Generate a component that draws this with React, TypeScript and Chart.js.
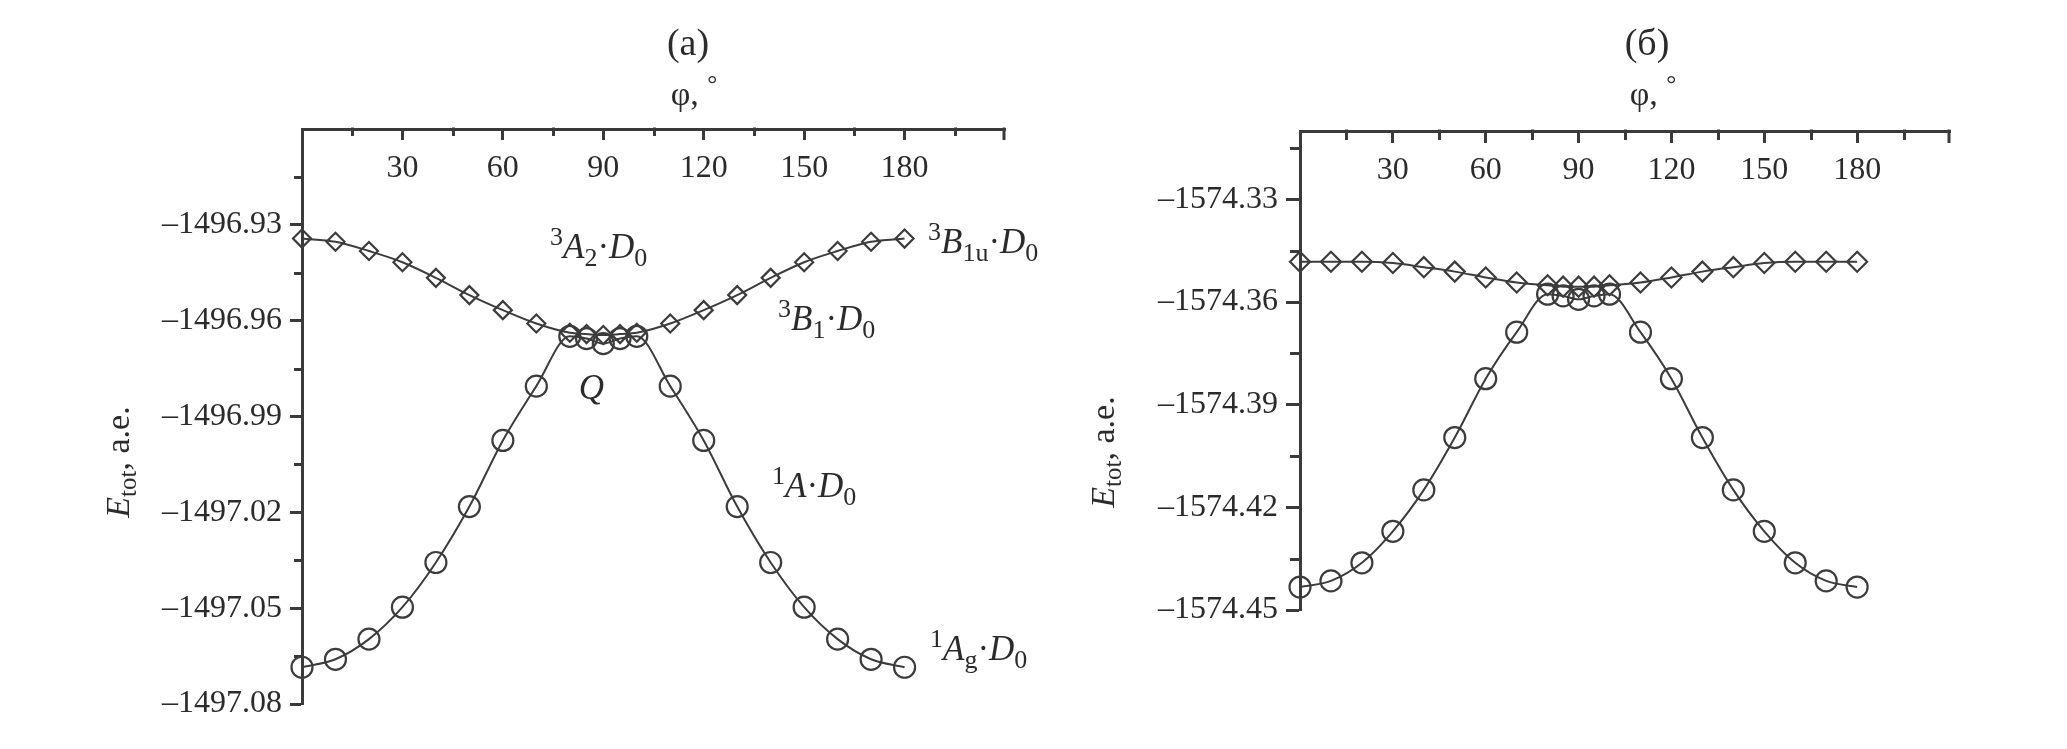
import React, { useEffect, useRef } from 'react';
import { Chart, registerables } from 'chart.js';

Chart.register(...registerables);

// ---------------- data ----------------
const phi = [0, 10, 20, 30, 40, 50, 60, 70, 80, 85, 90, 95, 100, 110, 120, 130, 140, 150, 160, 170, 180];

// panel (а): triplet (diamonds) and singlet (circles)
const tripletA = [
  -1496.9343, -1496.9353, -1496.9382, -1496.9417, -1496.9466, -1496.952, -1496.9567, -1496.9609,
  -1496.9638, -1496.9642, -1496.9645, -1496.9642, -1496.9638,
  -1496.9609, -1496.9567, -1496.952, -1496.9466, -1496.9417, -1496.9382, -1496.9353, -1496.9343,
];
const singletA = [
  -1497.0685, -1497.066, -1497.0597, -1497.0497, -1497.0357, -1497.0182, -1496.9975, -1496.9805,
  -1496.9649, -1496.9656, -1496.9672, -1496.9656, -1496.9649,
  -1496.9805, -1496.9975, -1497.0182, -1497.0357, -1497.0497, -1497.0597, -1497.066, -1497.0685,
];

// panel (б)
const tripletB = [
  -1574.3482, -1574.3482, -1574.3482, -1574.3486, -1574.3498, -1574.3511, -1574.3528, -1574.3543,
  -1574.3551, -1574.3555, -1574.3555, -1574.3555, -1574.3551,
  -1574.3543, -1574.3528, -1574.3511, -1574.3498, -1574.3486, -1574.3482, -1574.3482, -1574.3482,
];
const singletB = [
  -1574.4433, -1574.4415, -1574.4362, -1574.427, -1574.4149, -1574.3996, -1574.3824, -1574.3688,
  -1574.3577, -1574.3582, -1574.3592, -1574.3582, -1574.3577,
  -1574.3688, -1574.3824, -1574.3996, -1574.4149, -1574.427, -1574.4362, -1574.4415, -1574.4433,
];

// ticks
const xTickValues = [30, 60, 90, 120, 150, 180];
const xTickLabels = ['30', '60', '90', '120', '150', '180'];
const xMinorTicks = [15, 45, 75, 105, 135, 165, 195];
const xEndTicks = [210];

const yTicksA = [-1497.08, -1497.05, -1497.02, -1496.99, -1496.96, -1496.93];
const yLabelsA = ['\u20131497.08', '\u20131497.05', '\u20131497.02', '\u20131496.99', '\u20131496.96', '\u20131496.93'];
const yMinorA = [-1497.065, -1497.035, -1497.005, -1496.975, -1496.945, -1496.915];

const yTicksB = [-1574.45, -1574.42, -1574.39, -1574.36, -1574.33];
const yLabelsB = ['\u20131574.45', '\u20131574.42', '\u20131574.39', '\u20131574.36', '\u20131574.33'];
const yMinorB = [-1574.435, -1574.405, -1574.375, -1574.345, -1574.315];

// ---------------- styling ----------------
const FONT = '"Liberation Serif", "Times New Roman", serif';
const INK = '#2b2b2b';
const AXIS = '#3a3a3a';
const LINE = '#3c3c3c';

type Seg = { t: string; it?: boolean; sup?: boolean; sub?: boolean };
type Note = { x: number; y: number; segs: Seg[] };

const notesA: Note[] = [
  { x: 74.1, y: -1496.9405, segs: [{ t: '3', sup: true }, { t: 'A', it: true }, { t: '2', sub: true }, { t: '\u00b7' }, { t: 'D', it: true }, { t: '0', sub: true }] },
  { x: 187, y: -1496.9388, segs: [{ t: '3', sup: true }, { t: 'B', it: true }, { t: '1u', sub: true }, { t: '\u00b7' }, { t: 'D', it: true }, { t: '0', sub: true }] },
  { x: 142.2, y: -1496.9629, segs: [{ t: '3', sup: true }, { t: 'B', it: true }, { t: '1', sub: true }, { t: '\u00b7' }, { t: 'D', it: true }, { t: '0', sub: true }] },
  { x: 82.7, y: -1496.9845, segs: [{ t: 'Q', it: true }] },
  { x: 140.4, y: -1497.0152, segs: [{ t: '1', sup: true }, { t: 'A', it: true }, { t: '\u00b7' }, { t: 'D', it: true }, { t: '0', sub: true }] },
  { x: 187.6, y: -1497.0662, segs: [{ t: '1', sup: true }, { t: 'A', it: true }, { t: 'g', sub: true }, { t: '\u00b7' }, { t: 'D', it: true }, { t: '0', sub: true }] },
];

function segFont(s: Seg, size: number) {
  const sz = s.sup || s.sub ? Math.round(size * 0.74) : size;
  return `${s.it ? 'italic ' : ''}${sz}px ${FONT}`;
}
function richWidth(ctx: CanvasRenderingContext2D, segs: Seg[], size: number) {
  let w = 0;
  for (const s of segs) {
    ctx.font = segFont(s, size);
    w += ctx.measureText(s.t).width;
  }
  return w;
}
function drawRich(ctx: CanvasRenderingContext2D, segs: Seg[], x: number, y: number, size: number) {
  let cx = x;
  ctx.textAlign = 'left';
  ctx.textBaseline = 'alphabetic';
  for (const s of segs) {
    ctx.font = segFont(s, size);
    const dy = s.sup ? -size * 0.38 : s.sub ? size * 0.22 : 0;
    ctx.fillText(s.t, cx, y + dy);
    cx += ctx.measureText(s.t).width;
  }
}

type Panel = {
  key: string;
  width: number;
  left: number;
  triplet: number[];
  singlet: number[];
  yMin: number;
  yMax: number;
  yTicks: number[];
  yLabels: string[];
  yMinor: number[];
  axisLeft: number;
  axisTop: number;
  padRight: number;
  padBottom: number;
  majorX: number;
  minorX: number;
  majorY: number;
  minorY: number;
  diamondR: number;
  circleR: number;
  title: string;
  titleX: number;
  yTitleX: number;
  yTitleY: number;
  notes: Note[];
};

const panels: Panel[] = [
  {
    key: 'a', width: 1050, left: 0, triplet: tripletA, singlet: singletA,
    yMin: -1497.08, yMax: -1496.9, yTicks: yTicksA, yLabels: yLabelsA, yMinor: yMinorA,
    axisLeft: 302, axisTop: 129, padRight: 45, padBottom: 45,
    majorX: 11, minorX: 7, majorY: 12, minorY: 8, diamondR: 9, circleR: 10.5,
    title: '(\u0430)', titleX: 688, yTitleX: 118, yTitleY: 462, notes: notesA,
  },
  {
    key: 'b', width: 1017, left: 1050, triplet: tripletB, singlet: singletB,
    yMin: -1574.45, yMax: -1574.31, yTicks: yTicksB, yLabels: yLabelsB, yMinor: yMinorB,
    axisLeft: 250, axisTop: 131, padRight: 117, padBottom: 139,
    majorX: 12, minorX: 9, majorY: 14, minorY: 10, diamondR: 10, circleR: 10.5,
    title: '(\u0431)', titleX: 597, yTitleX: 53, yTitleY: 452, notes: [],
  },
];

function decorPlugin(p: Panel) {
  return {
    id: 'decor_' + p.key,
    afterDraw(chart: any) {
      const ctx: CanvasRenderingContext2D = chart.ctx;
      const xs = chart.scales.x;
      const ys = chart.scales.y;
      const area = chart.chartArea;
      ctx.save();
      // extra tick marks (minor + end)
      ctx.strokeStyle = AXIS;
      ctx.lineWidth = 3;
      ctx.lineCap = 'butt';
      ctx.beginPath();
      for (const v of xMinorTicks) {
        const px = Math.round(xs.getPixelForValue(v)) + 0.5;
        ctx.moveTo(px, area.top - 1.5);
        ctx.lineTo(px, area.top + p.minorX);
      }
      for (const v of xEndTicks) {
        const px = Math.round(xs.getPixelForValue(v)) - 1;
        ctx.moveTo(px, area.top - 1.5);
        ctx.lineTo(px, area.top + p.majorX);
      }
      for (const v of p.yMinor) {
        const py = Math.round(ys.getPixelForValue(v)) + 0.5;
        ctx.moveTo(area.left - p.minorY, py);
        ctx.lineTo(area.left + 1.5, py);
      }
      ctx.stroke();

      ctx.fillStyle = INK;
      // panel title
      ctx.font = `38px ${FONT}`;
      ctx.textAlign = 'center';
      ctx.textBaseline = 'alphabetic';
      ctx.fillText(p.title, p.titleX, 55);
      // x-axis title
      const phiSegs: Seg[] = [{ t: '\u03c6, ' }, { t: '\u00b0', sup: true }];
      const pw = richWidth(ctx, phiSegs, 34);
      drawRich(ctx, phiSegs, p.titleX - pw / 2 + 6, 105, 34);
      // y-axis title
      const ySegs: Seg[] = [{ t: 'E', it: true }, { t: 'tot', sub: true }, { t: ', \u0430.\u0435.' }];
      const yw = richWidth(ctx, ySegs, 34);
      ctx.save();
      ctx.translate(p.yTitleX, p.yTitleY);
      ctx.rotate(-Math.PI / 2);
      drawRich(ctx, ySegs, -yw / 2, 11, 34);
      ctx.restore();
      // annotations
      for (const n of p.notes) {
        drawRich(ctx, n.segs, xs.getPixelForValue(n.x), ys.getPixelForValue(n.y), 35);
      }
      ctx.restore();
    },
  };
}

function buildConfig(p: Panel): any {
  const ds = (vals: number[], style: string, r: number) => ({
    data: phi.map((x, i) => ({ x, y: vals[i] })),
    borderColor: LINE,
    borderWidth: 2,
    pointStyle: style,
    pointRadius: r,
    pointHoverRadius: r,
    pointBorderWidth: 2.2,
    pointBorderColor: LINE,
    pointBackgroundColor: 'rgba(0,0,0,0)',
    cubicInterpolationMode: 'monotone',
    fill: false,
    clip: false,
  });
  return {
    type: 'line',
    data: { datasets: [ds(p.triplet, 'rectRot', p.diamondR), ds(p.singlet, 'circle', p.circleR)] },
    options: {
      animation: false,
      responsive: false,
      maintainAspectRatio: false,
      devicePixelRatio: 1,
      events: [],
      layout: { padding: { left: 0, top: 0, right: p.padRight, bottom: p.padBottom } },
      plugins: { legend: { display: false }, tooltip: { enabled: false }, title: { display: false } },
      scales: {
        x: {
          type: 'linear',
          position: 'top',
          min: 0,
          max: 210,
          afterBuildTicks: (s: any) => { s.ticks = xTickValues.map((v) => ({ value: v })); },
          afterFit: (s: any) => { s.height = p.axisTop; },
          ticks: {
            autoSkip: false,
            maxRotation: 0,
            minRotation: 0,
            mirror: true,
            padding: 20,
            color: INK,
            font: { family: FONT, size: 32 },
            callback: (_v: any, i: number) => xTickLabels[i] ?? '',
          },
          grid: { drawOnChartArea: false, drawTicks: true, tickLength: -p.majorX, tickColor: AXIS, tickWidth: 3 },
          border: { display: true, color: AXIS, width: 3 },
        },
        y: {
          type: 'linear',
          position: 'left',
          min: p.yMin,
          max: p.yMax,
          afterBuildTicks: (s: any) => { s.ticks = p.yTicks.map((v) => ({ value: v })); },
          afterFit: (s: any) => { s.width = p.axisLeft; },
          ticks: {
            autoSkip: false,
            padding: 8,
            color: INK,
            font: { family: FONT, size: 32 },
            callback: (_v: any, i: number) => p.yLabels[i] ?? '',
          },
          grid: { drawOnChartArea: false, drawTicks: true, tickLength: p.majorY, tickColor: AXIS, tickWidth: 3 },
          border: { display: true, color: AXIS, width: 3 },
        },
      },
    },
    plugins: [decorPlugin(p)],
  };
}

function PanelChart({ p }: { p: Panel }) {
  const ref = useRef<HTMLCanvasElement | null>(null);
  useEffect(() => {
    if (!ref.current) return;
    const chart = new Chart(ref.current, buildConfig(p));
    return () => chart.destroy();
  }, [p]);
  return (
    <canvas
      ref={ref}
      width={p.width}
      height={749}
      style={{ position: 'absolute', left: p.left, top: 0, width: p.width, height: 749 }}
    />
  );
}

export default function App() {
  return (
    <div style={{ position: 'absolute', left: 0, top: 0, width: 2067, height: 749, background: '#fff' }}>
      {panels.map((p) => (
        <PanelChart key={p.key} p={p} />
      ))}
    </div>
  );
}
